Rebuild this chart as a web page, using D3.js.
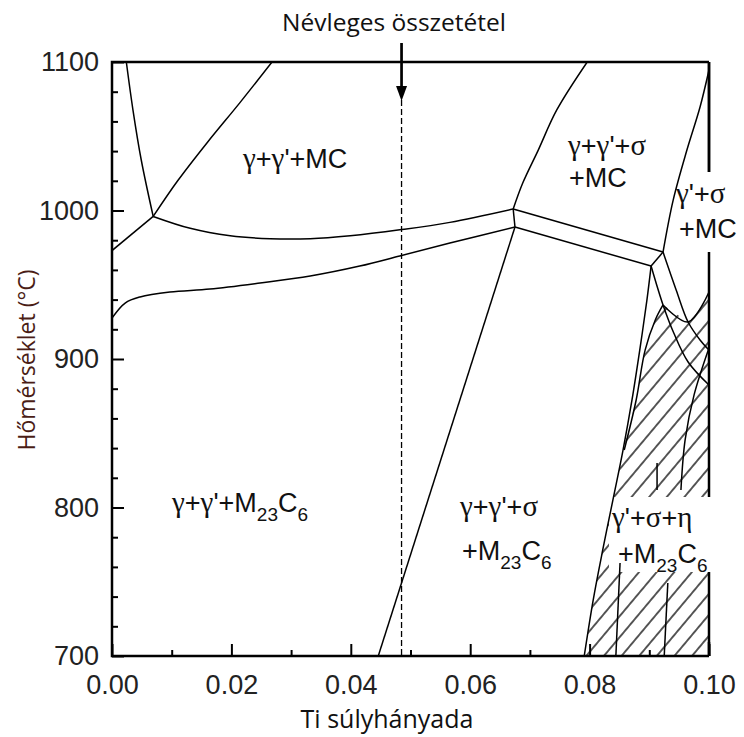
<!DOCTYPE html>
<html>
<head>
<meta charset="utf-8">
<script src="https://cdn.jsdelivr.net/npm/d3@7"></script>
<style>
  html, body { margin: 0; padding: 0; background: #fff; }
  svg { display: block; }
</style>
</head>
<body>
<svg id="chart" width="744" height="737"></svg>
<script>
// ---------------- DATA (Ti weight fraction, temperature °C) ----------------
const xMajorTicks = [0, 0.02, 0.04, 0.06, 0.08, 0.10];
const xMinorTicks = [0.01, 0.03, 0.05, 0.07, 0.09];
const yMajorTicks = [700, 800, 900, 1000, 1100];
const yMinorTicks = [720, 740, 760, 780, 820, 840, 860, 880, 920, 940, 960, 980, 1020, 1040, 1060, 1080];
const nominalComposition = 0.0485;

const lineLeftSteep   = [[0.0024, 1100], [0.0035, 1068], [0.0049, 1034], [0.0069, 996]];
const lineLeftShort   = [[0.0, 973], [0.0069, 996]];
const lineLeftUp      = [[0.0069, 996], [0.0110, 1020], [0.0160, 1046], [0.0215, 1073], [0.0268, 1100]];
const lineUpperCurve  = [[0.0069, 996], [0.0131, 988], [0.0198, 983], [0.0265, 981], [0.0332, 981],
                         [0.0399, 983], [0.0482, 987], [0.0566, 992], [0.0672, 1001]];
const lineLowerCurve  = [[0.0, 927.6], [0.0022, 937.7], [0.0047, 941.8], [0.0097, 945.1], [0.0164, 947.1],
                         [0.0248, 951.2], [0.0332, 955.9], [0.0415, 962.6], [0.0482, 969.4],
                         [0.0566, 978.1], [0.0675, 988.9]];
const lineMidShort    = [[0.0672, 1001], [0.0675, 988.9]];
const lineMidUp       = [[0.0672, 1001], [0.0688, 1018.5], [0.0714, 1040.7], [0.0745, 1067.7], [0.0796, 1100]];
const lineBandUpper   = [[0.0672, 1001], [0.0923, 972]];
const lineBandLower   = [[0.0675, 988.9], [0.0903, 962.6]];
const lineRightShort  = [[0.0903, 962.6], [0.0923, 972]];
const lineRightUp     = [[0.0923, 972], [0.0940, 1007], [0.0963, 1040.7], [0.0985, 1069.7], [0.1000, 1094.6]];
const lineLongDiag    = [[0.0675, 988.9], [0.0446, 700]];
const lineHatchLeft   = [[0.0903, 962.6], [0.0896, 939.7], [0.0884, 906], [0.0871, 872.4], [0.0856, 838.7],
                         [0.0839, 805], [0.0822, 771.4], [0.0806, 737.7], [0.0791, 700]];
const lineHatchInner  = [[0.0923, 936.4], [0.0910, 926.3], [0.0893, 906], [0.0878, 872.4], [0.0858, 838.7]];
const lineC           = [[0.0903, 962.6], [0.0923, 936.4], [0.0941, 917.5], [0.0965, 898], [0.1000, 882.5]];
const lineD           = [[0.0923, 972], [0.0945, 946.5], [0.0965, 924.9], [0.0985, 912.8], [0.1000, 906]];
const lineE           = [[0.1000, 945.1], [0.0965, 924.9], [0.0923, 936.4]];
const lineF           = [[0.1000, 907.4], [0.0975, 875.8], [0.0960, 845.5], [0.0953, 811.8]];
const lineG           = [[0.0931, 749.2], [0.0925, 700]];
const lineH           = [[0.0851, 762.6], [0.0844, 700]];
const lineI           = [[0.0913, 830], [0.0913, 811.8]];
const hatchRegion     = [[0.0791, 700], [0.0806, 737.7], [0.0822, 771.4], [0.0839, 805], [0.0856, 838.7],
                         [0.0878, 872.4], [0.0893, 906], [0.0910, 926.3], [0.0923, 936.4],
                         [0.0965, 924.9], [0.1000, 945.1], [0.1000, 700]];

// region labels: parts, "_" prefix means subscript
const labelTexts = [
  ["γ", "+", "γ", "'+MC"],
  ["γ", "+", "γ", "'+M", "_23", "C", "_6"],
  ["γ", "+", "γ", "'+", "σ"],
  ["+M", "_23", "C", "_6"],
  ["γ", "+", "γ", "'+", "σ"],
  ["+MC"],
  ["γ", "'+", "σ"],
  ["+MC"],
  ["γ", "'+", "σ", "+", "η"],
  ["+M", "_23", "C", "_6"]
];

// ---------------- LAYOUT ----------------
const svg = d3.select("#chart");
const L = 112, R = 709, T = 62, B = 656;
const x = d3.scaleLinear().domain([0, 0.1]).range([L, R]);
const y = d3.scaleLinear().domain([700, 1100]).range([B, T]);

const defs = svg.append("defs");
const pat = defs.append("pattern")
  .attr("id", "hatch").attr("patternUnits", "userSpaceOnUse")
  .attr("width", 13.5).attr("height", 13.5)
  .attr("patternTransform", "rotate(40)");
pat.append("line").attr("x1", 6.75).attr("y1", -1).attr("x2", 6.75).attr("y2", 14.5)
  .attr("stroke", "#000").attr("stroke-width", 1.3);

defs.append("clipPath").attr("id", "plotclip")
  .append("rect").attr("x", L).attr("y", T).attr("width", R - L).attr("height", B - T);

const plot = svg.append("g").attr("clip-path", "url(#plotclip)");

const lineGen = d3.line().x(d => x(d[0])).y(d => y(d[1])).curve(d3.curveCatmullRom.alpha(0.5));
const polyGen = d3.line().x(d => x(d[0])).y(d => y(d[1]));

// hatch
plot.append("path").attr("d", polyGen(hatchRegion) + "Z")
  .attr("fill", "url(#hatch)").attr("stroke", "none");

function drawLine(g, data) {
  g.append("path").attr("d", lineGen(data))
    .attr("fill", "none").attr("stroke", "#000").attr("stroke-width", 1.5)
    .attr("stroke-linejoin", "round");
}

// lines that get hidden by label backgrounds
[lineF, lineI].forEach(d => drawLine(plot, d));

// axes ticks
const xMajor = d3.axisBottom(x).tickValues(xMajorTicks).tickSize(-12).tickSizeOuter(0)
  .tickPadding(19).tickFormat(d3.format(".2f"));
const xMinor = d3.axisBottom(x).tickValues(xMinorTicks).tickSize(-6).tickSizeOuter(0).tickFormat("");
const yMajor = d3.axisLeft(y).tickValues(yMajorTicks).tickSize(-12).tickSizeOuter(0)
  .tickPadding(13).tickFormat(d3.format("d"));
const yMinor = d3.axisLeft(y).tickValues(yMinorTicks).tickSize(-6).tickSizeOuter(0).tickFormat("");

function styleAxis(g) {
  g.select(".domain").remove();
  g.selectAll("line").attr("stroke", "#000").attr("stroke-width", 2);
  g.selectAll("text").attr("font-family", "'Liberation Sans', Arial, sans-serif")
    .attr("font-size", 27).attr("fill", "#222");
}
svg.append("g").attr("transform", `translate(0,${B})`).call(xMajor).call(styleAxis);
svg.append("g").attr("transform", `translate(0,${B})`).call(xMinor).call(styleAxis);
svg.append("g").attr("transform", `translate(${L},0)`).call(yMajor).call(styleAxis);
svg.append("g").attr("transform", `translate(${L},0)`).call(yMinor).call(styleAxis);

// right frame (partly hidden by label boxes)
svg.append("line").attr("x1", R).attr("x2", R).attr("y1", T).attr("y2", B)
  .attr("stroke", "#000").attr("stroke-width", 2.5);

// label backgrounds
svg.append("rect").attr("x", 674).attr("y", 172).attr("width", 70).attr("height", 80).attr("fill", "#fff");
svg.append("rect").attr("x", 609).attr("y", 497).attr("width", 106).attr("height", 75).attr("fill", "#fff");

// the rest of the phase boundaries
const plot2 = svg.append("g").attr("clip-path", "url(#plotclip)");
[lineLeftSteep, lineLeftShort, lineLeftUp, lineUpperCurve, lineLowerCurve, lineMidShort, lineMidUp,
 lineBandUpper, lineBandLower, lineRightShort, lineRightUp, lineLongDiag, lineHatchLeft,
 lineHatchInner, lineC, lineD, lineE, lineG, lineH].forEach(d => drawLine(plot2, d));

// frame: left, bottom, top
svg.append("path")
  .attr("d", `M${R},${T} L${L},${T} L${L},${B} L${R},${B}`)
  .attr("fill", "none").attr("stroke", "#000").attr("stroke-width", 2.5);
svg.append("line").attr("x1", R).attr("x2", R).attr("y1", B - 14).attr("y2", B)
  .attr("stroke", "#000").attr("stroke-width", 2.5);
svg.append("line").attr("x1", R).attr("x2", R).attr("y1", T).attr("y2", 172)
  .attr("stroke", "#000").attr("stroke-width", 2.5);

// nominal composition: dashed line + arrow
const xn = x(nominalComposition);
svg.append("line").attr("x1", xn).attr("x2", xn).attr("y1", 100).attr("y2", B)
  .attr("stroke", "#000").attr("stroke-width", 1.3).attr("stroke-dasharray", "6,3");
svg.append("line").attr("x1", xn).attr("x2", xn).attr("y1", 43).attr("y2", 88)
  .attr("stroke", "#000").attr("stroke-width", 2.7);
svg.append("path").attr("d", `M${xn - 5.5},${86} L${xn + 5.5},${86} L${xn},${101} Z`).attr("fill", "#000");

// region labels
const labelPos = [
  [243, 168], [172, 512], [460, 516], [462, 560], [568, 155], [569, 187],
  [676, 203], [679, 238], [612, 527], [618, 563]
];
labelTexts.forEach((parts, i) => {
  const t = svg.append("text").attr("x", labelPos[i][0]).attr("y", labelPos[i][1])
    .attr("font-family", "'Liberation Sans', Arial, sans-serif").attr("font-size", 27).attr("fill", "#111");
  let shifted = false;
  parts.forEach(p => {
    if (p.startsWith("_")) {
      t.append("tspan").attr("dy", 9).attr("font-size", 19).text(p.slice(1));
      shifted = true;
    } else {
      const ts = t.append("tspan").text(p);
      if (shifted) { ts.attr("dy", -9); shifted = false; }
      if (/[γση]/.test(p)) ts.attr("font-family", "'Liberation Serif', 'Times New Roman', serif").attr("font-size", 29);
    }
  });
});

// titles
svg.append("text").attr("x", 394).attr("y", 31).attr("text-anchor", "middle")
  .attr("font-family", "'Open Sans', 'Noto Sans', sans-serif").attr("font-size", 24.5).attr("fill", "#111")
  .text("Névleges összetétel");
svg.append("text").attr("x", 387).attr("y", 728).attr("text-anchor", "middle")
  .attr("font-family", "'Open Sans', 'Noto Sans', sans-serif").attr("font-size", 25).attr("fill", "#111")
  .text("Ti súlyhányada");
svg.append("text").attr("transform", "translate(35,360) rotate(-90)").attr("text-anchor", "middle")
  .attr("font-family", "'Open Sans', 'Noto Sans', sans-serif").attr("font-size", 23).attr("fill", "#4a1d16")
  .text("Hőmérséklet (°C)");
</script>
</body>
</html>
